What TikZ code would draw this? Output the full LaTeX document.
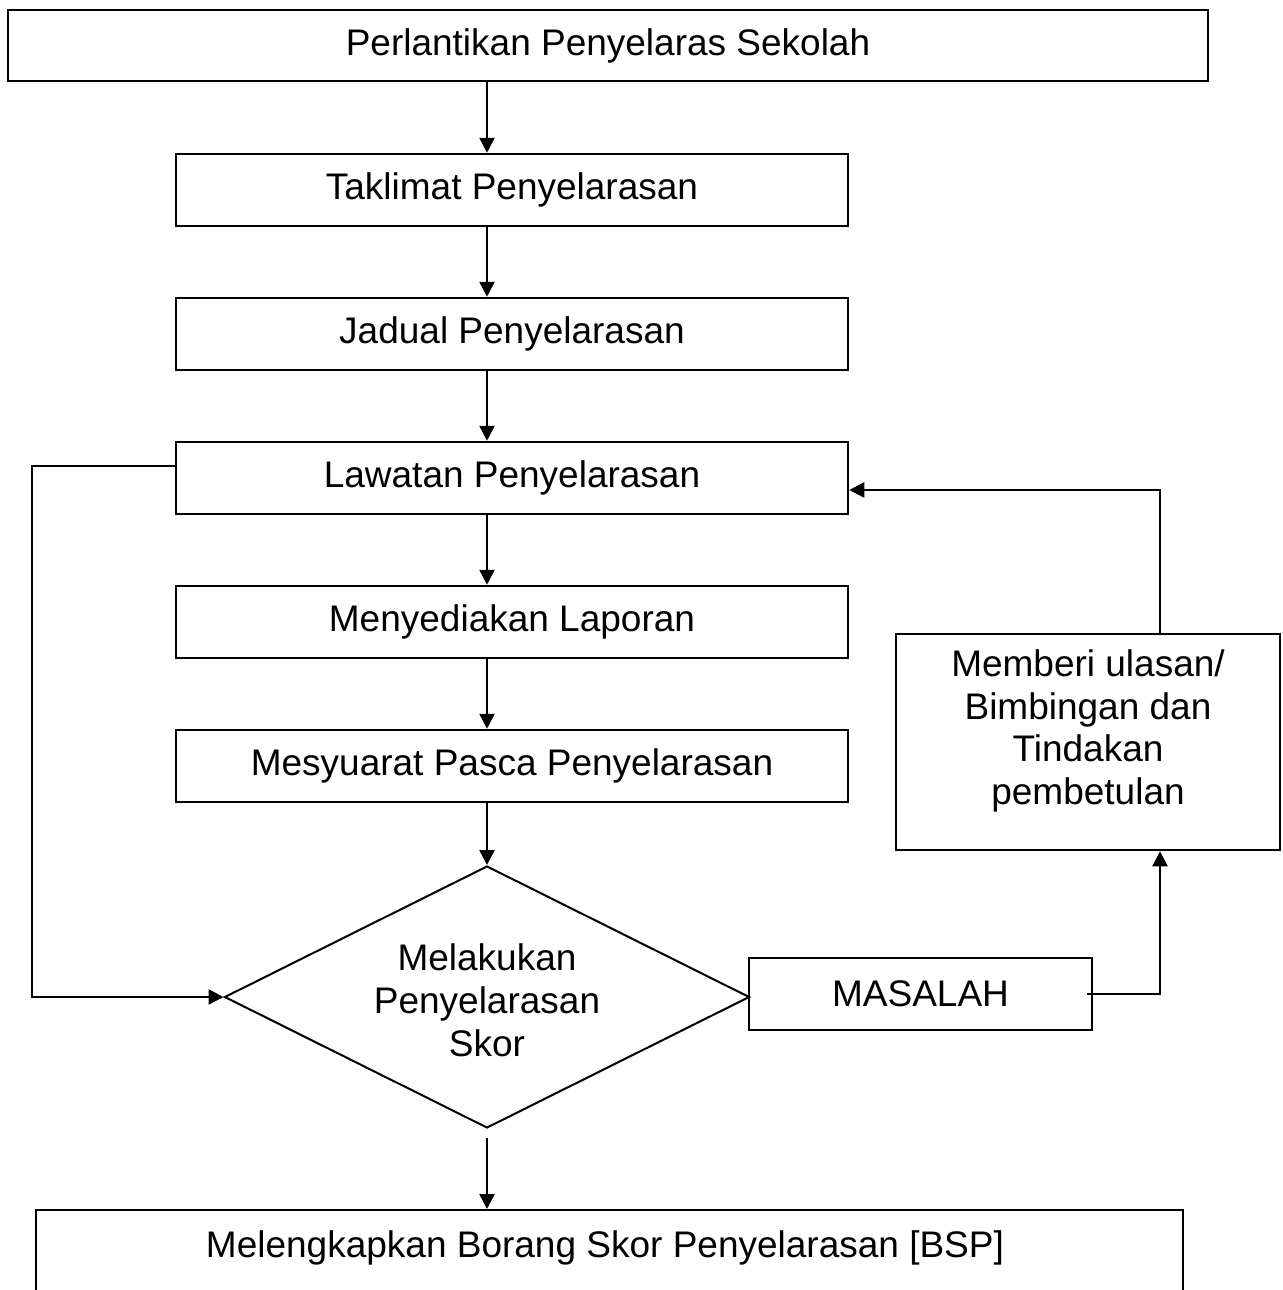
\documentclass[tikz,border=0pt]{standalone}
\usepackage{fontspec}
\setmainfont{Liberation Sans}
\usetikzlibrary{arrows.meta,shapes.geometric}
\begin{document}
\begin{tikzpicture}[x=1pt,y=-1pt,
  txt/.style={font=\fontsize{37}{42.8}\selectfont},
  box/.style={draw,line width=2.5pt,inner sep=0pt,minimum height=72pt,txt},
  thinbox/.style={draw,line width=2pt,inner sep=0pt,txt},
  lbl/.style={inner sep=0pt,align=center,txt},
  arr/.style={line width=2.5pt,-{Triangle[length=15pt,width=15pt]}}]
\clip (0,0) rectangle (1282,1290);
\fill[white] (0,0) rectangle (1282,1290);
% main column
\node[box,minimum width=1200pt,minimum height=71pt] (n1) at (608,45.5) {Perlantikan Penyelaras Sekolah};
\node[box,minimum width=672pt] (n2) at (512,190) {Taklimat Penyelarasan};
\node[box,minimum width=672pt] (n3) at (512,334) {Jadual Penyelarasan};
\node[box,minimum width=672pt] (n4) at (512,478) {Lawatan Penyelarasan};
\node[box,minimum width=672pt] (n5) at (512,622) {Menyediakan Laporan};
\node[box,minimum width=672pt] (n6) at (512,766) {Mesyuarat Pasca Penyelarasan};
% decision
\node[diamond,draw,line width=2pt,inner sep=0pt,minimum width=525pt,minimum height=262pt] (dia) at (487,997) {};
\node[lbl] (diat) at (487,1000) {Melakukan\\Penyelarasan\\Skor};
% problem branch
\node[thinbox,minimum width=343pt,minimum height=72pt] (mas) at (920.5,994) {MASALAH};
\node[box,minimum width=384pt,minimum height=216pt] (mem) at (1088,742) {};
\node[lbl] (memt) at (1088,731) {Memberi ulasan/\\Bimbingan dan\\Tindakan\\pembetulan};
% final box (cut off at bottom)
\node[thinbox,minimum width=1147pt,minimum height=140pt] (n7) at (609.5,1280) {};
\node[lbl] (n7t) at (605,1248) {Melengkapkan Borang Skor Penyelarasan [BSP]};
% helper coordinates
\coordinate (lp) at (32,466);
\coordinate (fbtop) at (1160,490);
\coordinate (mstart) at (1087,994);
% connectors
\draw[arr] (n1.south -| dia.north) -- (n2.north -| dia.north);
\draw[arr] (n2.south -| dia.north) -- (n3.north -| dia.north);
\draw[arr] (n3.south -| dia.north) -- (n4.north -| dia.north);
\draw[arr] (n4.south -| dia.north) -- (n5.north -| dia.north);
\draw[arr] (n5.south -| dia.north) -- (n6.north -| dia.north);
\draw[arr] (n6.south -| dia.north) -- (dia.north);
\draw[arr] ([yshift=-9pt]dia.south) -- (n7.north -| dia.south);
\draw[arr] (n4.west |- lp) -- (lp) |- (dia.west);
\draw[arr] (mstart) -| (mem.south -| fbtop);
\draw[arr] (mem.north -| fbtop) -- (fbtop) -- (n4.east |- fbtop);
\end{tikzpicture}
\end{document}
